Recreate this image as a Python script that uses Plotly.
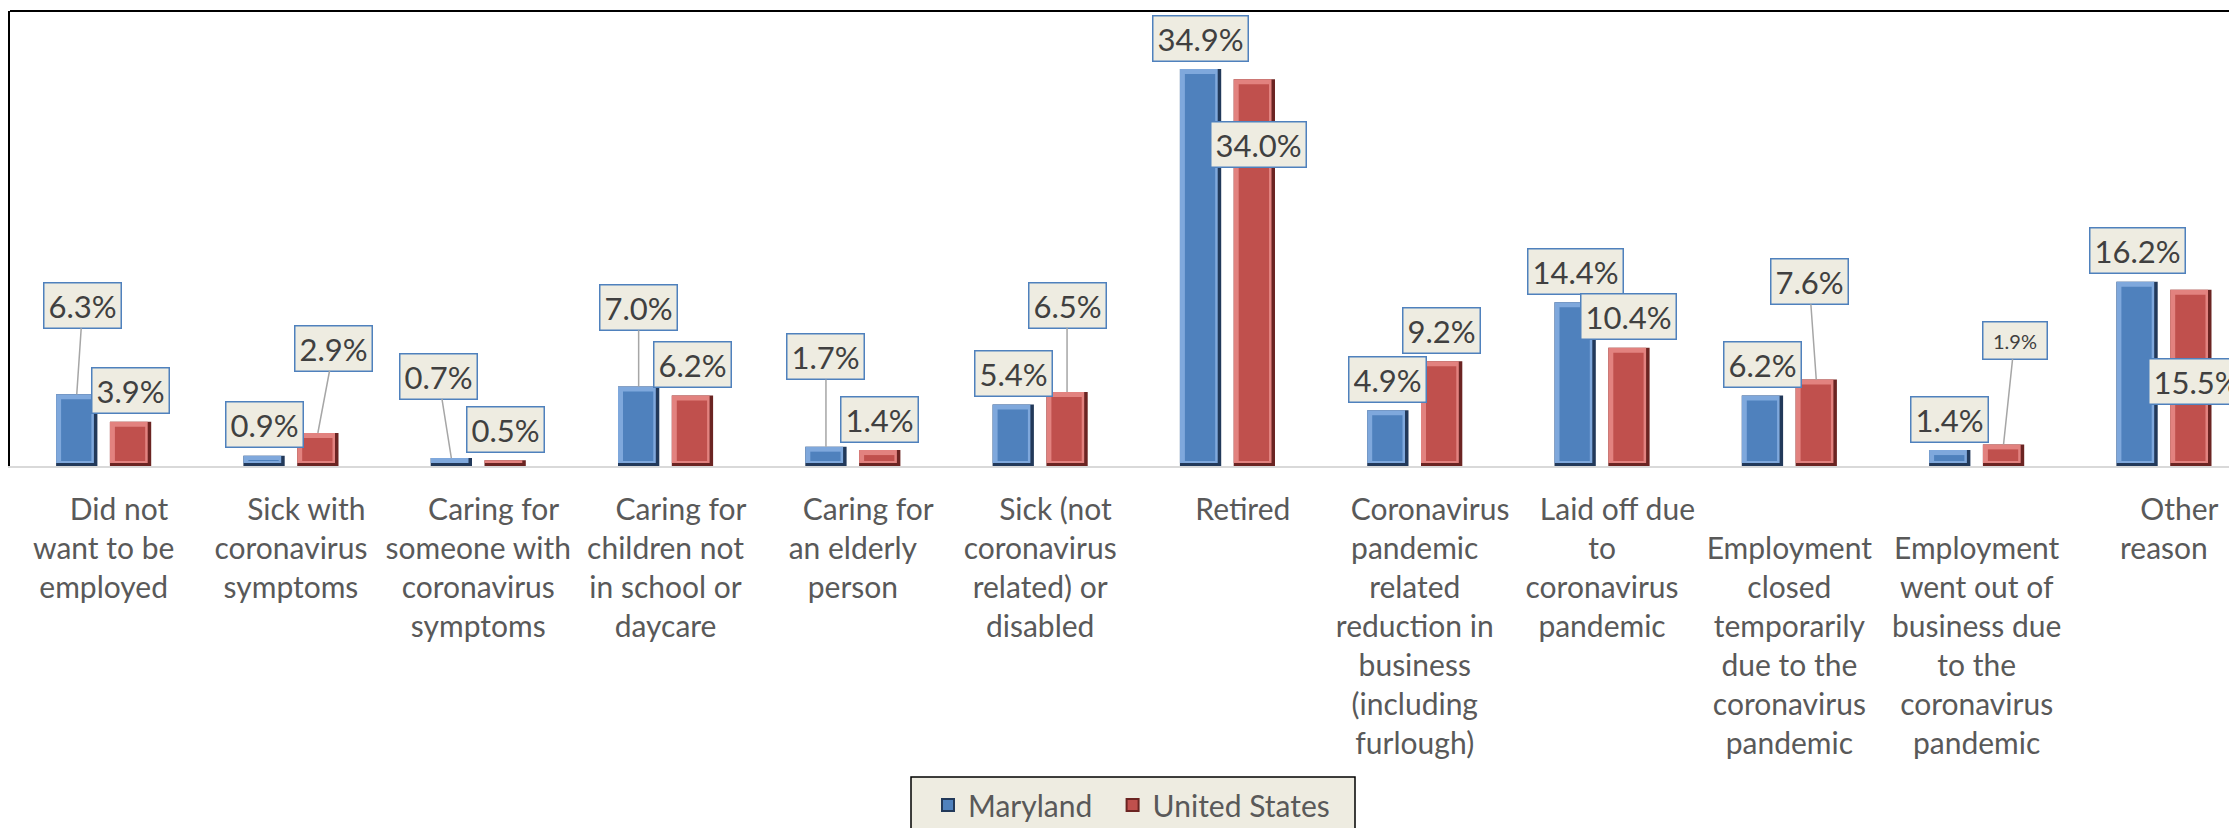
import plotly.graph_objects as go

# ---------------- data ----------------
categories = [
    "\u00a0\u00a0\u00a0\u00a0Did not<br>want to be<br>employed",
    "\u00a0\u00a0\u00a0\u00a0Sick with<br>coronavirus<br>symptoms",
    "\u00a0\u00a0\u00a0\u00a0Caring for<br>someone with<br>coronavirus<br>symptoms",
    "\u00a0\u00a0\u00a0\u00a0Caring for<br>children not<br>in school or<br>daycare",
    "\u00a0\u00a0\u00a0\u00a0Caring for<br>an elderly<br>person",
    "\u00a0\u00a0\u00a0\u00a0Sick (not<br>coronavirus<br>related) or<br>disabled",
    "\u00a0\u00a0\u00a0\u00a0Retired",
    "\u00a0\u00a0\u00a0\u00a0Coronavirus<br>pandemic<br>related<br>reduction in<br>business<br>(including<br>furlough)",
    "\u00a0\u00a0\u00a0\u00a0Laid off due<br>to<br>coronavirus<br>pandemic",
    "\u00a0<br>Employment<br>closed<br>temporarily<br>due to the<br>coronavirus<br>pandemic",
    "\u00a0<br>Employment<br>went out of<br>business due<br>to the<br>coronavirus<br>pandemic",
    "\u00a0\u00a0\u00a0\u00a0Other<br>reason",
]
maryland = [6.3, 0.9, 0.7, 7.0, 1.7, 5.4, 34.9, 4.9, 14.4, 6.2, 1.4, 16.2]
united_states = [3.9, 2.9, 0.5, 6.2, 1.4, 6.5, 34.0, 9.2, 10.4, 7.6, 1.9, 15.5]
series_names = ["Maryland", "United States"]

# ---------------- label placement (pixel offsets from bar top to label centre) ----------------
md_dx = [6, 0, -13, 0, 0, 0, 0, 0, 0, 0, 0, 0]
md_dy = [-89, -31, -82, -79, -90, -31, -31, -31, -31, -31, -31, -31]
md_leader = [1, 0, 1, 1, 1, 0, 0, 0, 0, 0, 0, 0]
us_dx = [0, 16, 0, 0, 0, 0, 4, 0, 0, -7, 11, 6]
us_dy = [-31, -85, -31, -31, -31, -87, 65, -31, -31, -98, -104, 92]
us_leader = [0, 1, 0, 0, 0, 1, 0, 0, 0, 1, 1, 0]
us_small = [0, 0, 0, 0, 0, 0, 0, 0, 0, 0, 1, 0]

# ---------------- style ----------------
FONT = "Lato, Open Sans, sans-serif"
BLUE = dict(face="#4F81BD", light="#7FA8DC", dark="#22395A")
RED = dict(face="#C0504D", light="#E2827F", dark="#6B2422")
W, H = 2237, 828
PAGE_OFFSET = 8                      # default body margin of the html page
ML, MT = 10 - PAGE_OFFSET, 11 - PAGE_OFFSET
BASELINE = 466 - PAGE_OFFSET
MB = H - BASELINE
CAT_PX = 187.3                       # pixels per category
Y_MAX = 40
PLOT_W = W - ML
PLOT_H = BASELINE - MT
PX_PER_UNIT = PLOT_H / Y_MAX
x_end = -0.5 + PLOT_W / CAT_PX

BAR_W_PX, BAR_OFF_PX = 41.3, 26.9
BEVEL_PX = 5

# legend box (page pixels)
LEG_L, LEG_R, LEG_T, LEG_B = 911, 1355, 777, 845


def ux(px):
    return px / CAT_PX


def uy(px):
    return px / PX_PER_UNIT


def paper_x(page_px):
    return (page_px - PAGE_OFFSET - ML) / PLOT_W


def paper_y(page_py):
    return (BASELINE - (page_py - PAGE_OFFSET)) / PLOT_H


x = list(range(len(maryland)))
fig = go.Figure()


def add_bar_layers(values, sign, colors):
    left = sign * ux(BAR_OFF_PX) - ux(BAR_W_PX) / 2
    # dark shadow (right / bottom edges)
    fig.add_trace(go.Bar(x=x, y=values, offset=left, width=ux(BAR_W_PX),
                         marker=dict(color=colors["dark"], line=dict(width=0)),
                         showlegend=False, hoverinfo="skip"))
    # light highlight (top / left edges)
    fig.add_trace(go.Bar(x=x, y=[max(0.0, v - uy(3)) for v in values], base=uy(3),
                         offset=left, width=ux(BAR_W_PX - 3.5),
                         marker=dict(color=colors["light"], line=dict(width=0)),
                         showlegend=False, hoverinfo="skip"))
    # face
    fig.add_trace(go.Bar(x=x, y=[max(0.0, v - uy(2 * BEVEL_PX)) for v in values],
                         base=uy(BEVEL_PX),
                         offset=left + ux(BEVEL_PX), width=ux(BAR_W_PX - 2 * BEVEL_PX - 1),
                         marker=dict(color=colors["face"], line=dict(width=0)),
                         showlegend=False, hoverinfo="skip"))


add_bar_layers(maryland, -1, BLUE)
add_bar_layers(united_states, 1, RED)

# legend entries
legend_labels = [series_names[0] + "\u00a0\u00a0", series_names[1]]
for name, colors in zip(legend_labels, (BLUE, RED)):
    fig.add_trace(go.Bar(x=[None], y=[None], name=name,
                         marker=dict(color=colors["face"], line=dict(color=colors["dark"], width=2))))

half = ux(BAR_OFF_PX)
annotations = []


def add_labels(values, sign, dxs, dys, leaders, small=None):
    for i, v in enumerate(values):
        is_small = bool(small and small[i])
        ann = dict(
            x=i + sign * half, y=v, xref="x", yref="y",
            text=f"{v:.1f}%",
            showarrow=True, arrowhead=0, arrowwidth=1.5,
            arrowcolor="#A6A6A6" if leaders[i] else "rgba(0,0,0,0)",
            ax=dxs[i], ay=dys[i], axref="pixel", ayref="pixel",
            bgcolor="#EEECE1", bordercolor="#4F81BD", borderwidth=1.5,
            borderpad=4,
            font=dict(family=FONT, size=20 if is_small else 31, color="#404040"),
        )
        if is_small:
            ann["width"] = 55
            ann["height"] = 28
        else:
            ann["height"] = 36
        annotations.append(ann)


add_labels(maryland, -1, md_dx, md_dy, md_leader)
add_labels(united_states, 1, us_dx, us_dy, us_leader, us_small)

fig.update_layout(
    width=W, height=H,
    margin=dict(l=ML, r=0, t=MT, b=MB, pad=0, autoexpand=False),
    paper_bgcolor="white", plot_bgcolor="white",
    barmode="overlay",
    font=dict(family=FONT, size=30, color="#595959"),
    xaxis=dict(
        range=[-0.5, x_end], tickmode="array", tickvals=x, ticktext=categories,
        tickangle=0, automargin=False,
        showline=True, linecolor="#D9D9D9", linewidth=2,
        ticks="", showgrid=False, zeroline=False,
        tickfont=dict(family=FONT, size=30, color="#595959"),
        ticklabelstandoff=16, fixedrange=True,
    ),
    yaxis=dict(
        range=[0, Y_MAX], showline=True, linecolor="black", linewidth=2,
        showticklabels=False, ticks="", showgrid=False, zeroline=False,
        fixedrange=True, automargin=False,
    ),
    shapes=[
        dict(type="line", xref="paper", yref="paper", x0=0, x1=1, y0=1, y1=1,
             line=dict(color="black", width=2)),
        dict(type="rect", xref="paper", yref="paper", layer="below",
             x0=paper_x(LEG_L), x1=paper_x(LEG_R), y0=paper_y(LEG_B), y1=paper_y(LEG_T),
             fillcolor="#EEECE1", line=dict(color="black", width=1.5)),
    ],
    annotations=annotations,
    showlegend=True,
    legend=dict(
        orientation="h", xref="container", yref="container",
        x=(928 - PAGE_OFFSET) / W, y=1 - (779 - PAGE_OFFSET) / H,
        xanchor="left", yanchor="top",
        bgcolor="rgba(0,0,0,0)", borderwidth=0,
        font=dict(family=FONT, size=30, color="#595959"),
        traceorder="normal",
    ),
)

fig.write_html("out.html")
